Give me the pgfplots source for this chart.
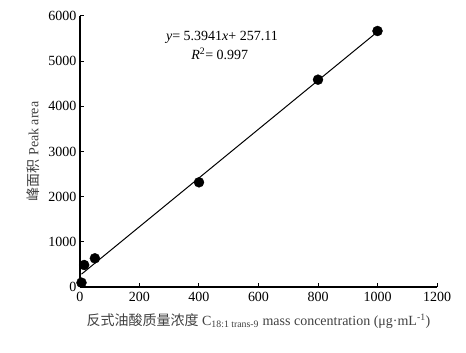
\documentclass[border=0pt]{standalone}
\usepackage{pgfplots}
\pgfplotsset{compat=1.18}
\usepackage{fontspec}
\setmainfont{Liberation Serif}
\newfontfamily\cjk{Noto Sans CJK SC}
\begin{document}
\begin{tikzpicture}[x=1pt,y=1pt]
\begin{axis}[
  at={(0,0)}, anchor=south west,
  scale only axis, width=357pt, height=271pt,
  xmin=0, xmax=1200, ymin=0, ymax=6000,
  xtick={0,200,...,1200}, ytick={0,1000,...,6000},
  axis x line*=bottom, axis y line*=left,
  axis line style={line width=1.5pt, -},
  tick style={line width=1pt, black},
  tick align=inside, major tick length=4pt,
  clip=false,
  scaled ticks=false,
  /pgf/number format/assume math mode=true,
  /pgf/number format/1000 sep={},
  ticklabel style={font=\fontsize{14}{16}\selectfont},
  xticklabel style={yshift=-2pt},
  xlabel={{\cjk 反式油酸质量浓度} C\textsubscript{18:1 trans-9} mass concentration (μg·mL\textsuperscript{-1})},
  ylabel={{\cjk 峰面积} Peak area},
  label style={font=\fontsize{14}{16}\selectfont, text=black!75},
  xlabel style={yshift=-5pt},
  ylabel style={yshift=2pt},
]
\addplot[only marks, mark=*, mark size=5pt, black] coordinates {
  (5,96) (14,487) (50,635) (400,2318) (800,4590) (1000,5668)
};
\addplot[black, line width=1pt, no marks] coordinates {(5,284) (1000,5651)};
\node[font=\fontsize{14}{16}\selectfont, inner sep=0pt] at (axis cs:477,5535)
  {\textit{y}= 5.3941\textit{x}+ 257.11};
\node[font=\fontsize{14}{16}\selectfont, inner sep=0pt] at (axis cs:470,5160)
  {\textit{R}\textsuperscript{2}= 0.997};
\end{axis}
\useasboundingbox (-80,-66) rectangle (386,287);
\end{tikzpicture}
\end{document}
